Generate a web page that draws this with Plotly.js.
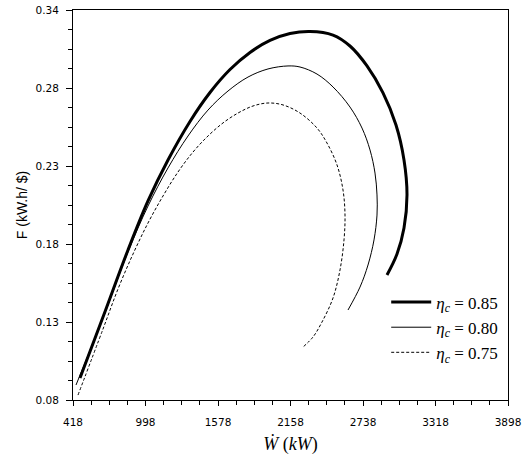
<!DOCTYPE html>
<html>
<head>
<meta charset="utf-8">
<script src="https://cdn.plot.ly/plotly-3.0.1.min.js"></script>
<style>html,body{margin:0;padding:0;background:#fff;}#chart{width:525px;height:456px;}</style>
</head>
<body>
<div id="chart"></div>
<script>
// eta_c = 0.85
const w85 = [474, 658, 858, 1018, 1178, 1354, 1514, 1674, 1834, 1994, 2154, 2314, 2498, 2634, 2770, 2898, 3002, 3066, 3090, 3066, 3010, 2930];
const f85 = [0.0947, 0.1353, 0.1800, 0.2127, 0.2400, 0.2657, 0.2850, 0.3003, 0.3117, 0.3197, 0.3243, 0.3257, 0.3233, 0.3160, 0.3027, 0.2847, 0.2633, 0.2400, 0.2167, 0.1947, 0.1773, 0.1633];
// eta_c = 0.80
const w80 = [442, 658, 858, 1018, 1178, 1338, 1498, 1658, 1818, 1978, 2138, 2234, 2370, 2498, 2634, 2730, 2794, 2834, 2850, 2850, 2826, 2778, 2714, 2618];
const f80 = [0.0900, 0.1347, 0.1787, 0.2093, 0.2347, 0.2560, 0.2733, 0.2860, 0.2953, 0.3007, 0.3027, 0.3020, 0.2973, 0.2887, 0.2753, 0.2613, 0.2467, 0.2313, 0.2167, 0.2033, 0.1867, 0.1700, 0.1553, 0.1400];
// eta_c = 0.75
const w75 = [458, 658, 778, 898, 1018, 1138, 1258, 1378, 1498, 1618, 1738, 1858, 1978, 2098, 2234, 2370, 2450, 2530, 2578, 2594, 2586, 2554, 2498, 2410, 2338, 2258];
const f75 = [0.0833, 0.1273, 0.1540, 0.1773, 0.1980, 0.2160, 0.2320, 0.2453, 0.2560, 0.2647, 0.2713, 0.2760, 0.2780, 0.2767, 0.2713, 0.2613, 0.2513, 0.2367, 0.2200, 0.2033, 0.1867, 0.1667, 0.1480, 0.1320, 0.1220, 0.1153];

const seriesNames = ['<i>η<sub>c</sub></i> = 0.85', '<i>η<sub>c</sub></i> = 0.80', '<i>η<sub>c</sub></i> = 0.75'];
const yTickVals = [0.08, 0.132, 0.184, 0.236, 0.288, 0.34];
const yTickText = ['0.08', '0.13', '0.18', '0.23', '0.28', '0.34'];

const traces = [
  {x: w85, y: f85, name: seriesNames[0], mode: 'lines', line: {color: '#000', width: 3, shape: 'spline', smoothing: 1}},
  {x: w80, y: f80, name: seriesNames[1], mode: 'lines', line: {color: '#000', width: 1, shape: 'spline', smoothing: 1}},
  {x: w75, y: f75, name: seriesNames[2], mode: 'lines', line: {color: '#000', width: 1, dash: '3px,2px', shape: 'spline', smoothing: 1}}
];

const tickFont = {family: 'DejaVu Sans, Verdana, sans-serif', size: 10.5, color: '#000'};

const layout = {
  width: 525, height: 456,
  margin: {l: 73, r: 17, t: 10, b: 56},
  paper_bgcolor: '#fff', plot_bgcolor: '#fff',
  showlegend: true,
  legend: {
    x: 0.72, y: 0.296, xanchor: 'left', yanchor: 'top',
    bgcolor: 'rgba(0,0,0,0)', borderwidth: 0, itemwidth: 40,
    font: {family: 'Liberation Serif, Times New Roman, serif', size: 17, color: '#000'},
    tracegroupgap: 0
  },
  xaxis: {
    range: [418, 3898], tickmode: 'linear', tick0: 418, dtick: 580,
    showline: true, linecolor: '#000', linewidth: 1, mirror: true,
    ticks: 'outside', ticklen: 5, tickcolor: '#000', tickwidth: 1,
    showgrid: false, zeroline: false,
    tickfont: tickFont, ticklabelstandoff: 7,
    minor: {tickmode: 'linear', tick0: 418, dtick: 145, ticks: 'outside', ticklen: 4, tickcolor: '#000', showgrid: false},
    title: {text: '<i>Ẇ</i> (<i>kW</i>)', font: {family: 'Liberation Serif, Times New Roman, serif', size: 18, color: '#000'}, standoff: 10}
  },
  yaxis: {
    range: [0.08, 0.34], tickmode: 'array', tickvals: yTickVals, ticktext: yTickText,
    showline: true, linecolor: '#000', linewidth: 1, mirror: true,
    ticks: 'outside', ticklen: 6, tickcolor: '#000', tickwidth: 1,
    showgrid: false, zeroline: false,
    tickfont: tickFont, ticklabelstandoff: 5,
    minor: {tickmode: 'linear', tick0: 0.08, dtick: 0.013, ticks: 'outside', ticklen: 4, tickcolor: '#000', showgrid: false},
    title: {text: 'F (kW.h/ $)', font: {family: 'Liberation Sans, Arial, sans-serif', size: 14, color: '#000'}, standoff: 4}
  }
};

Plotly.newPlot('chart', traces, layout, {displayModeBar: false, staticPlot: true});
</script>
</body>
</html>
